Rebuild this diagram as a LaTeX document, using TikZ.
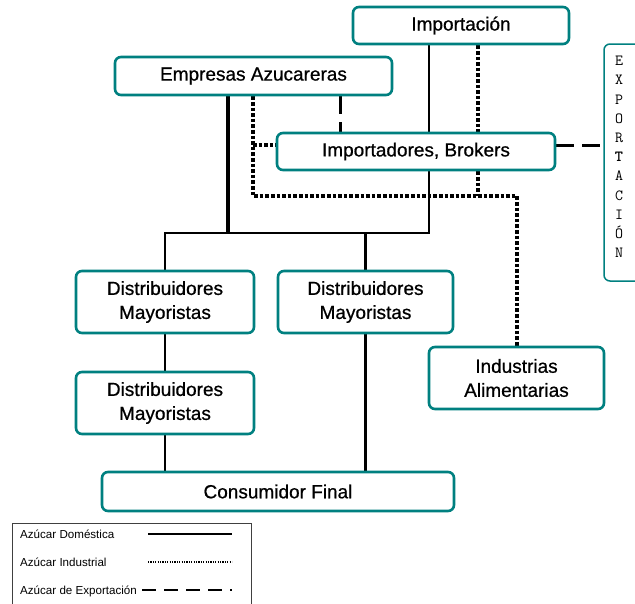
\documentclass[tikz,border=0pt]{standalone}
\usepackage{fontspec}
\setmainfont{Liberation Sans}
\newfontface\boxfont[FakeBold=0.7]{Liberation Sans}
\usetikzlibrary{backgrounds}
\definecolor{boxteal}{RGB}{0,128,128}
\tikzset{
  box/.style={draw=boxteal, fill=white, line width=2.6pt, rounded corners=6pt, inner sep=0pt,
    align=center, font=\boxfont\fontsize{19}{24}\selectfont},
  dom/.style={line width=2pt},
  domT/.style={line width=3.2pt},
  indl/.style={line width=3.2pt, dash pattern=on 3.6pt off 2pt},
  expo/.style={line width=3pt, dash pattern=on 18pt off 8pt},
  legtext/.style={anchor=base west, inner sep=0pt, font=\fontsize{11.6}{13}\selectfont},
}
\begin{document}
\begin{tikzpicture}[x=1pt,y=-1pt]
\clip (0,0) rectangle (635,603);
% nodes
\node[box, minimum width=216pt, minimum height=37pt] (imp) at (461,25.5) {Importación};
\node[box, minimum width=277pt, minimum height=38pt] (emp) at (253.5,76) {Empresas Azucareras};
\node[box, minimum width=278pt, minimum height=37pt] (brok) at (416,151.5) {Importadores, Brokers};
\node[draw=boxteal, line width=1.5pt, rounded corners=6pt, minimum width=41pt, minimum height=237pt, inner sep=0pt] (expbox) at (624.5,162.5) {};
\node[font=\ttfamily\fontsize{15.5}{19.2}\selectfont, align=center, inner sep=0pt] (exptext) at (619,157)
  {E\\X\\P\\O\\R\\\textbf{T}\\A\\C\\I\\Ó\\N};
\node[box, minimum width=178pt, minimum height=62pt] (d1) at (165,302) {Distribuidores\\Mayoristas};
\node[box, minimum width=175pt, minimum height=62pt] (d2) at (365.5,302) {Distribuidores\\Mayoristas};
\node[box, minimum width=178pt, minimum height=62pt] (d3) at (165,403) {Distribuidores\\Mayoristas};
\node[box, minimum width=175pt, minimum height=62pt] (ind) at (516.5,378) {Industrias\\Alimentarias};
\node[box, minimum width=352pt, minimum height=39pt] (cons) at (278,491.5) {Consumidor Final};
% junctions
\coordinate (h1) at (165,233);
\coordinate (h2) at (228,233);
\coordinate (h3) at (365.5,233);
\coordinate (h4) at (429,233);
\coordinate (p1) at (253,145);
\coordinate (p2) at (253,196);
\coordinate (p3) at (478,196);
\coordinate (p4) at (517,196);
\coordinate (q1) at (340,145);
\begin{scope}[on background layer]
\fill[white] (0,0) rectangle (635,603);
\draw[dom] (imp.south -| h4) -- (h4) -- (h1) -- (d1.north);
\draw[domT] (emp.south -| h2) -- (h2);
\draw[domT] (h3) -- (d2.north);
\draw[domT] (d2.south) -- (cons.north -| d2.south);
\draw[dom] (d1.south) -- (d3.north);
\draw[dom] (d3.south) -- (cons.north -| d3.south);
\draw[indl] (emp.south -| p1) -- (p2) -- (p4) -- (ind.north -| p4);
\draw[indl] (p1) -- (brok.west |- p1);
\draw[indl] (imp.south -| p3) -- (brok.north -| p3);
\draw[indl] (brok.south -| p3) -- (p3);
\draw[expo] (emp.south -| q1) -- (brok.north -| q1);
\draw[expo] (brok.east |- q1) -- (expbox.west |- q1);
\end{scope}
% legend
\node[draw=black!75, line width=0.9pt, minimum width=239pt, minimum height=90pt, inner sep=0pt] (legend) at (131.5,568) {};
\node[legtext] (l1) at (20,538) {Azúcar Doméstica};
\node[legtext] (l2) at (20,566) {Azúcar Industrial};
\node[legtext] (l3) at (20,594) {Azúcar de Exportación};
\coordinate (a1) at (148,534); \coordinate (b1) at (232,534);
\coordinate (a2) at (148,562); \coordinate (b2) at (232,562);
\coordinate (a3) at (142,590); \coordinate (b3) at (232,590);
\draw[line width=1.6pt] (a1) -- (b1);
\draw[line width=1.4pt, dash pattern=on 1.2pt off 1.2pt] (a2) -- (b2);
\draw[line width=2pt, dash pattern=on 14pt off 8pt] (a3) -- (b3);
\end{tikzpicture}
\end{document}
